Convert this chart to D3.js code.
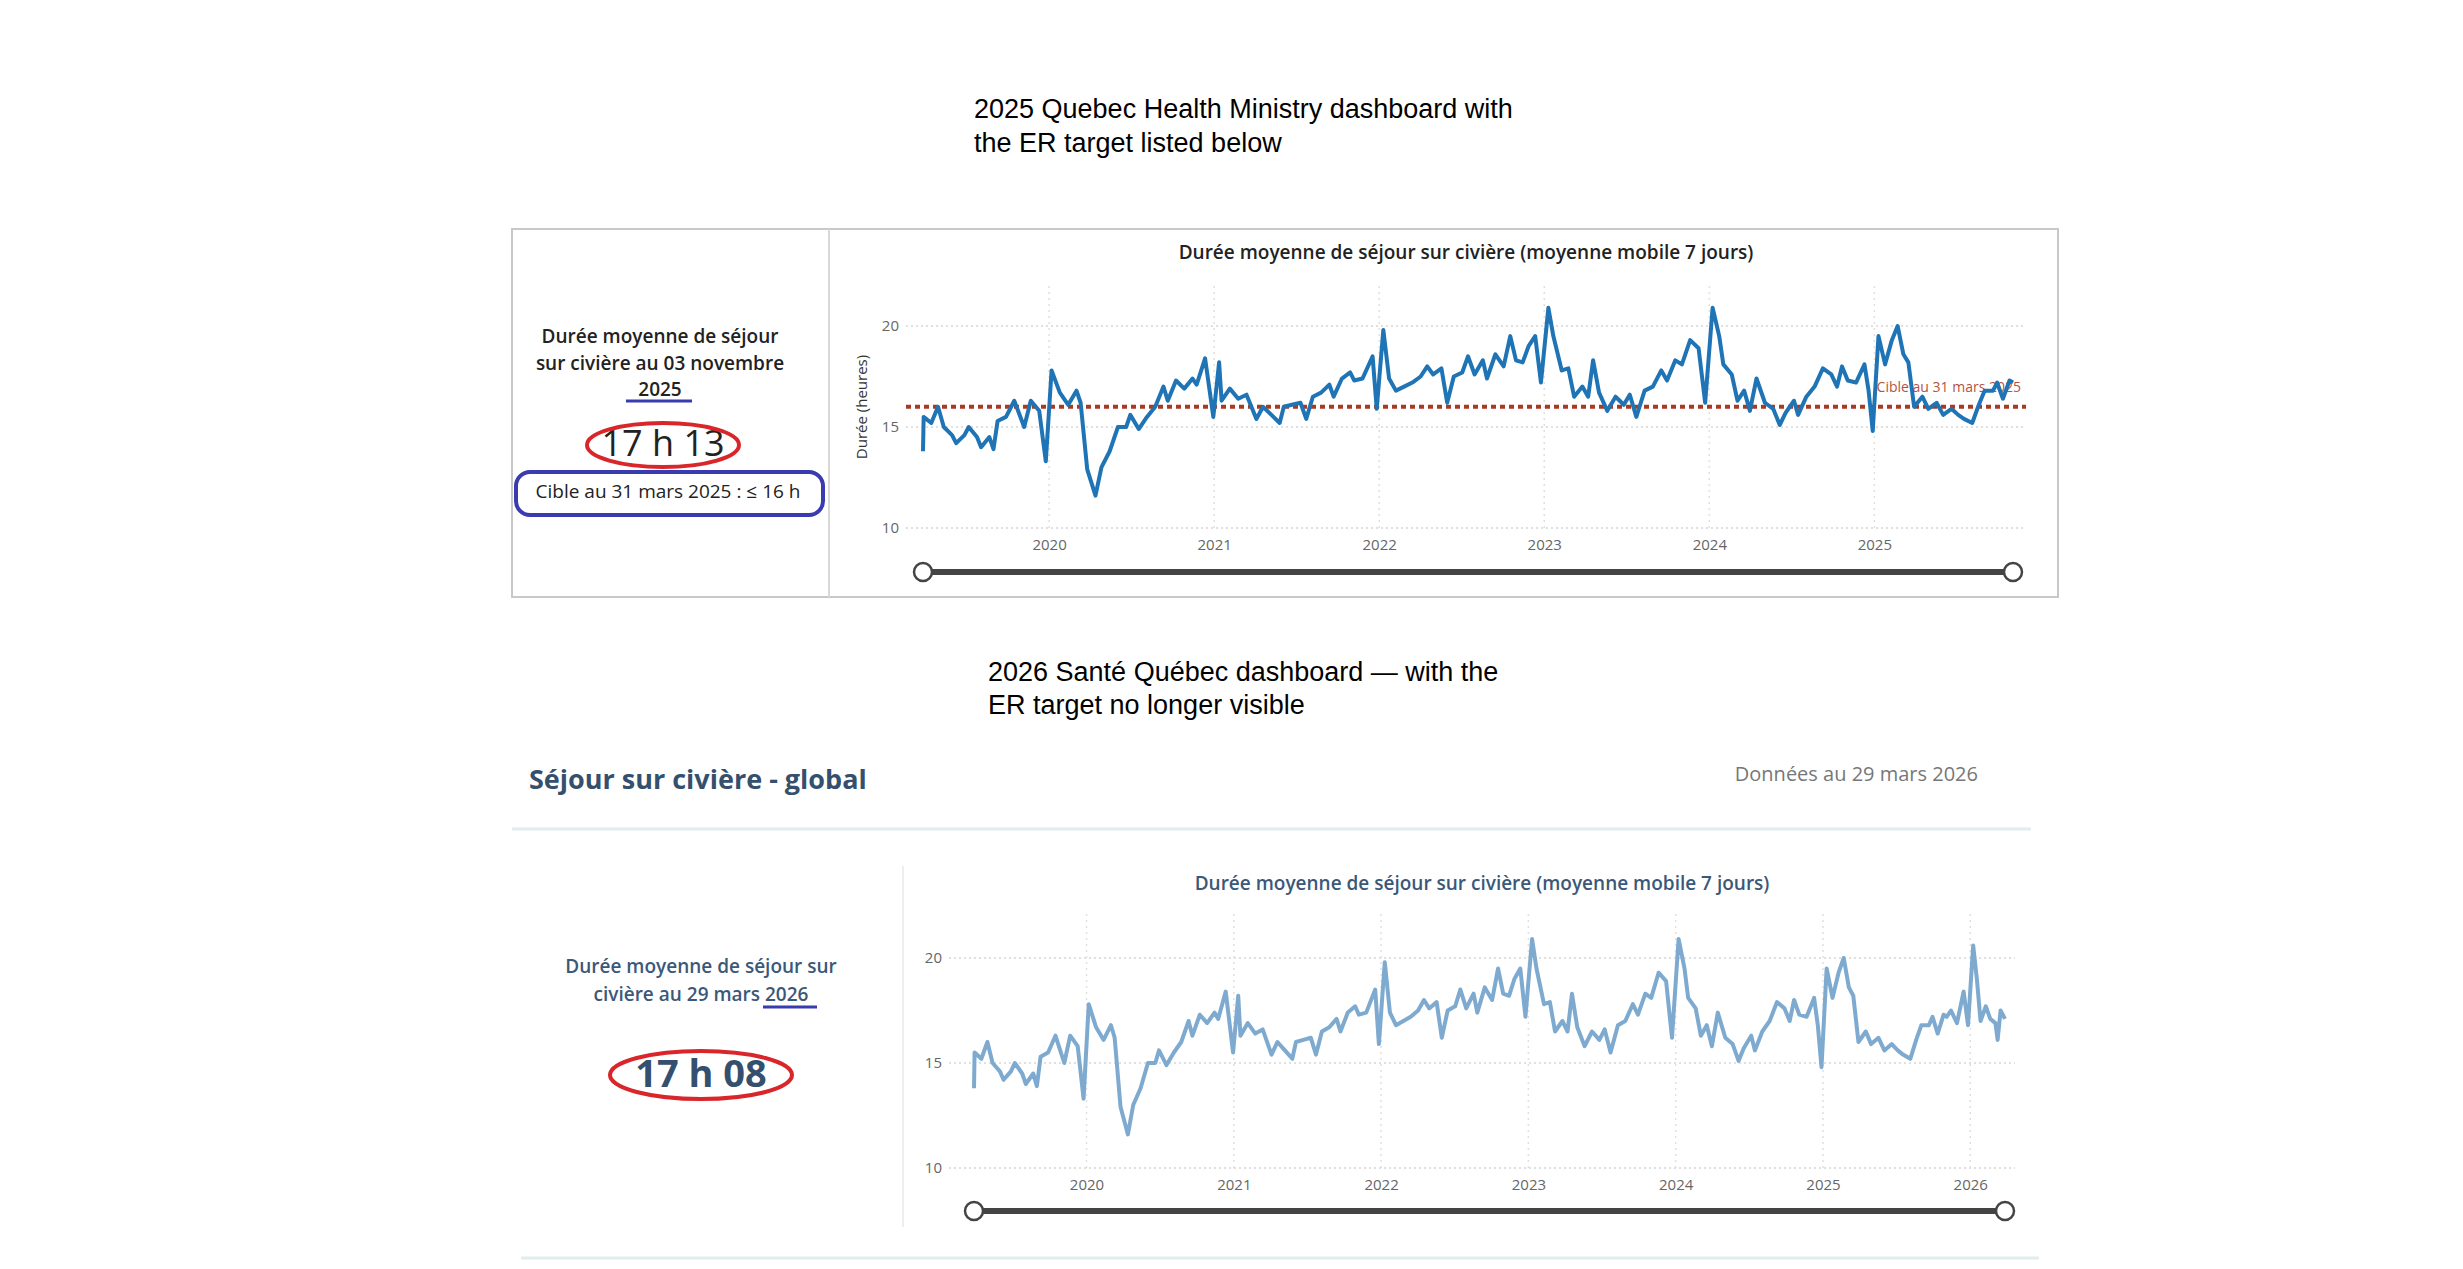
<!DOCTYPE html>
<html><head><meta charset="utf-8">
<script src="https://cdn.jsdelivr.net/npm/d3@7"></script>
<style>body{margin:0;background:#fff}svg{display:block}</style>
</head><body>
<svg id="c" width="2463" height="1269"></svg>
<script>
// decimal-year dates and 7-day average stay durations (hours)
const times = [2019.236,2019.24,2019.286,2019.327,2019.362,2019.412,2019.437,2019.487,2019.513,2019.563,2019.588,2019.638,2019.663,2019.688,2019.739,2019.789,2019.849,2019.889,2019.940,2019.980,
2020.015,2020.065,2020.116,2020.166,2020.191,2020.231,2020.281,2020.317,2020.367,2020.417,2020.467,2020.492,2020.543,2020.593,2020.643,2020.693,2020.719,2020.769,2020.819,2020.869,2020.894,2020.945,2020.995,
2021.030,2021.045,2021.095,2021.146,2021.196,2021.256,2021.296,2021.347,2021.397,2021.422,2021.472,2021.523,2021.558,2021.598,2021.648,2021.698,2021.724,2021.774,2021.824,2021.849,2021.899,2021.960,2021.985,
2022.025,2022.060,2022.101,2022.151,2022.201,2022.251,2022.291,2022.327,2022.377,2022.412,2022.452,2022.503,2022.538,2022.578,2022.628,2022.653,2022.704,2022.754,2022.794,2022.829,2022.869,2022.905,2022.945,2022.980,
2023.025,2023.055,2023.106,2023.146,2023.181,2023.231,2023.266,2023.296,2023.332,2023.382,2023.432,2023.482,2023.518,2023.558,2023.608,2023.658,2023.709,2023.744,2023.794,2023.834,2023.884,2023.935,2023.975,
2024.020,2024.060,2024.085,2024.136,2024.171,2024.211,2024.246,2024.286,2024.337,2024.387,2024.427,2024.462,2024.513,2024.538,2024.588,2024.638,2024.688,2024.739,2024.774,2024.804,2024.839,2024.889,2024.940,2024.965,2024.990,
2025.025,2025.065,2025.106,2025.141,2025.176,2025.206,2025.241,2025.291,2025.327,2025.377,2025.417,2025.467,2025.508,2025.543,2025.593,2025.633,2025.668,2025.719,2025.744,2025.779,2025.819,2025.840,2025.869,2025.910,2025.955,2025.985,
2026.020,2026.045,2026.070,2026.106,2026.136,2026.171,2026.186,2026.206,2026.236];
const hours = [13.8,15.5,15.2,16.0,15.0,14.6,14.2,14.6,15.0,14.5,14.0,14.5,13.9,15.3,15.5,16.3,15.0,16.3,15.8,13.3,
17.8,16.7,16.1,16.8,16.2,12.9,11.6,13.0,13.8,15.0,15.0,15.6,14.9,15.5,16.0,17.0,16.3,17.3,16.9,17.4,17.1,18.4,15.5,
18.2,16.3,16.9,16.4,16.6,15.4,16.0,15.6,15.2,16.0,16.1,16.2,15.4,16.5,16.7,17.1,16.5,17.4,17.7,17.3,17.4,18.5,15.9,
19.8,17.4,16.8,17.0,17.2,17.5,18.0,17.6,17.9,16.2,17.5,17.7,18.5,17.6,18.3,17.4,18.6,18.0,19.5,18.3,18.2,19.0,19.5,17.2,
20.9,19.5,17.8,17.9,16.5,17.0,16.5,18.3,16.7,15.8,16.5,16.1,16.6,15.5,16.8,17.0,17.8,17.3,18.3,18.1,19.3,18.9,16.2,
20.9,19.5,18.1,17.6,16.3,16.8,15.8,17.4,16.2,15.9,15.1,15.7,16.3,15.6,16.5,17.0,17.9,17.6,17.0,18.0,17.3,17.2,18.1,16.8,14.8,
19.5,18.1,19.3,20.0,18.6,18.2,16.0,16.5,15.9,16.2,15.6,15.9,15.6,15.4,15.2,16.1,16.8,16.8,17.2,16.4,17.3,17.2,17.5,16.9,18.4,16.8,
20.6,19.0,17.0,17.7,17.1,16.9,16.1,17.5,17.1];
const yearTicks2025 = [2020,2021,2022,2023,2024,2025];
const yearTicks2026 = [2020,2021,2022,2023,2024,2025,2026];
const yTicks = [10,15,20];
const target = 16;
const cutoff2025 = 2025.84;

const data = times.map((t,i)=>({t, v:hours[i]}));
const svg = d3.select("#c");
const F = "'Open Sans', sans-serif";

function text(x,y,s,o={}){
  return svg.append("text").attr("x",x).attr("y",y).text(s)
   .attr("font-family",o.f||F).attr("font-size",o.size||20).attr("fill",o.fill||"#222")
   .attr("font-weight",o.w||"normal").attr("text-anchor",o.a||"middle").attr("dominant-baseline","middle");
}

// headings
text(974,111,"2025 Quebec Health Ministry dashboard with",{f:"'Liberation Sans',Arial",size:27,fill:"#000",a:"start"});
text(974,145,"the ER target listed below",{f:"'Liberation Sans',Arial",size:27,fill:"#000",a:"start"});
text(988,674,"2026 Santé Québec dashboard — with the",{f:"'Liberation Sans',Arial",size:27,fill:"#000",a:"start"});
text(988,707,"ER target no longer visible",{f:"'Liberation Sans',Arial",size:27,fill:"#000",a:"start"});

// ---------- top panel ----------
svg.append("rect").attr("x",512).attr("y",229).attr("width",1546).attr("height",368).attr("fill","none").attr("stroke","#c8c8c8").attr("stroke-width",2);
svg.append("line").attr("x1",829).attr("x2",829).attr("y1",229).attr("y2",597).attr("stroke","#d8d8d8").attr("stroke-width",2);
text(660,338,"Durée moyenne de séjour",{size:19,w:600});
text(660,365,"sur civière au 03 novembre",{size:19,w:600});
text(660,391,"2025",{size:19,w:600});
svg.append("line").attr("x1",626).attr("x2",692).attr("y1",401).attr("y2",401).attr("stroke","#3b3bb0").attr("stroke-width",3);
text(663,446,"17 h 13",{size:36});
svg.append("ellipse").attr("cx",663).attr("cy",445).attr("rx",76).attr("ry",22).attr("fill","none").attr("stroke","#d8262b").attr("stroke-width",4);
svg.append("rect").attr("x",516).attr("y",472).attr("width",307).attr("height",43).attr("rx",14).attr("fill","none").attr("stroke","#3b3bb0").attr("stroke-width",4);
text(668,493,"Cible au 31 mars 2025 : ≤ 16 h",{size:19});

function chart(o){
  const x = d3.scaleLinear().domain(o.xd).range(o.xr);
  const y = d3.scaleLinear().domain([10,20]).range(o.yr);
  const g = svg.append("g");
  // grids
  g.selectAll(".hg").data(yTicks).join("line").attr("x1",o.gx[0]).attr("x2",o.gx[1])
    .attr("y1",d=>y(d)).attr("y2",d=>y(d)).attr("stroke","#d6d6d6").attr("stroke-width",1.5).attr("stroke-dasharray","2 3");
  g.selectAll(".vg").data(o.ticks).join("line").attr("x1",d=>x(d)).attr("x2",d=>x(d))
    .attr("y1",o.gy).attr("y2",y(10)).attr("stroke","#e0e0e0").attr("stroke-width",1.5).attr("stroke-dasharray","2 4");
  // axes
  const ax = g.append("g").attr("transform",`translate(0,${y(10)+8})`)
    .call(d3.axisBottom(x).tickValues(o.ticks).tickFormat(d3.format("d")).tickSize(0));
  const ay = g.append("g").attr("transform",`translate(${o.gx[0]-4},0)`)
    .call(d3.axisLeft(y).tickValues(yTicks).tickSize(0));
  [ax,ay].forEach(a=>{a.select(".domain").remove();
    a.selectAll("text").attr("font-family",F).attr("font-size",15).attr("fill","#666");});
  if(o.target){
    g.append("line").attr("x1",o.gx[0]).attr("x2",o.gx[1]).attr("y1",y(target)).attr("y2",y(target))
      .attr("stroke","#a93a22").attr("stroke-width",4).attr("stroke-dasharray","5 4");
    g.append("text").attr("x",o.gx[1]-5).attr("y",y(target)-15).text("Cible au 31 mars 2025")
      .attr("text-anchor","end").attr("font-family",F).attr("font-size",14).attr("fill","#b5533e");
  }
  const line = d3.line().x(d=>x(d.t)).y(d=>y(d.v));
  g.append("path").datum(o.data).attr("d",line).attr("fill","none").attr("stroke",o.color)
    .attr("stroke-width",o.sw).attr("stroke-linejoin","round");
  text((o.gx[0]+o.gx[1])/2,o.titleY,"Durée moyenne de séjour sur civière (moyenne mobile 7 jours)",{size:19,w:600,fill:o.tfill});
  // slider
  g.append("line").attr("x1",o.xr[0]).attr("x2",o.xr[1]).attr("y1",o.sy).attr("y2",o.sy).attr("stroke","#444").attr("stroke-width",6);
  g.selectAll(".knob").data(o.xr).join("circle").attr("cx",d=>d).attr("cy",o.sy).attr("r",9)
    .attr("fill","#fff").attr("stroke","#444").attr("stroke-width",2.5);
  return {x,y};
}

chart({xd:[times[0],cutoff2025],xr:[923,2013],yr:[528,326],gx:[906,2026],gy:286,ticks:yearTicks2025,
  data:data.filter(d=>d.t<=cutoff2025),color:"#1f74b6",sw:4,target:true,titleY:254,tfill:"#222",sy:572});
svg.append("text").attr("transform","translate(863,407) rotate(-90)").text("Durée (heures)")
  .attr("text-anchor","middle").attr("dominant-baseline","middle").attr("font-family",F).attr("font-size",15).attr("fill","#333");

// ---------- bottom panel ----------
text(529,782,"Séjour sur civière - global",{size:27,w:700,fill:"#34506e",a:"start"});
text(1978,776,"Données au 29 mars 2026",{size:20,fill:"#777",a:"end"});
svg.append("line").attr("x1",512).attr("x2",2031).attr("y1",829).attr("y2",829).attr("stroke","#e2ecef").attr("stroke-width",3);
svg.append("line").attr("x1",903).attr("x2",903).attr("y1",866).attr("y2",1227).attr("stroke","#eeeeee").attr("stroke-width",2);
svg.append("line").attr("x1",521).attr("x2",2039).attr("y1",1258).attr("y2",1258).attr("stroke","#e2ecef").attr("stroke-width",3);
text(701,968,"Durée moyenne de séjour sur",{size:19,w:600,fill:"#3b5878"});
text(701,996,"civière au 29 mars 2026",{size:19,w:600,fill:"#3b5878"});
svg.append("line").attr("x1",763).attr("x2",817).attr("y1",1007).attr("y2",1007).attr("stroke","#3b3bb0").attr("stroke-width",3);
text(701,1077,"17 h 08",{size:38,w:700,fill:"#34506e"});
svg.append("ellipse").attr("cx",701).attr("cy",1075).attr("rx",91).attr("ry",24).attr("fill","none").attr("stroke","#d8262b").attr("stroke-width",4);

chart({xd:[times[0],times[times.length-1]],xr:[974,2005],yr:[1168,958],gx:[949,2015],gy:914,ticks:yearTicks2026,
  data:data,color:"#7eaad0",sw:4,target:false,titleY:885,tfill:"#3b5878",sy:1211});
</script>
</body></html>
